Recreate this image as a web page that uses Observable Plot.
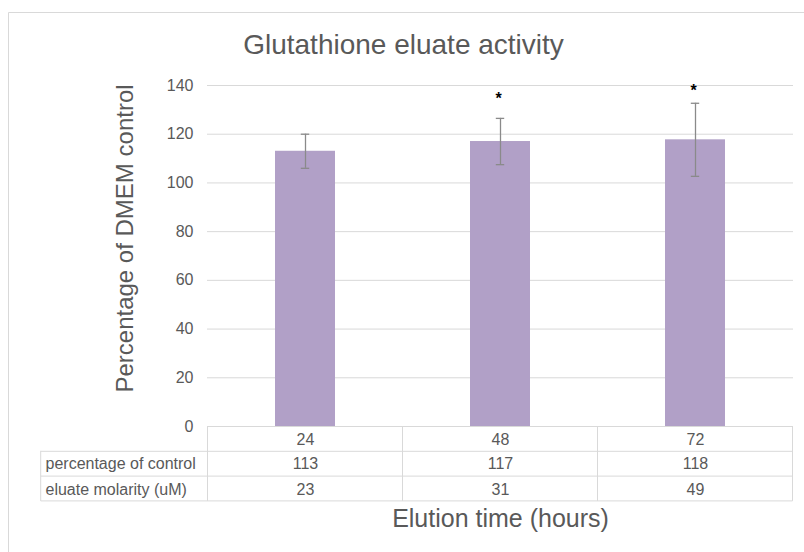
<!DOCTYPE html>
<html><head><meta charset="utf-8">
<script src="https://cdn.jsdelivr.net/npm/d3@7"></script>
<script src="https://cdn.jsdelivr.net/npm/@observablehq/plot@0.6"></script>
<style>
html,body{margin:0;padding:0;background:#fff;}
#chart{width:804px;height:552px;overflow:hidden;}
</style></head><body><div id="chart"></div>
<script>
// ---- data ----
const times = ["24", "48", "72"];
const pctValues = [113, 117, 117.7];
const errValues = [7, 9.5, 15];
const sigLabels = ["", "*", "*"];
const sigY = [null, 134.7, 137.8];
const yTicks = [0, 20, 40, 60, 80, 100, 120, 140];
const rowLabels = ["percentage of control", "eluate molarity (uM)"];
const pctRow = ["113", "117", "118"];
const molarityRow = ["23", "31", "49"];
const titleText = "Glutathione eluate activity";
const yTitle = "Percentage of DMEM control";
const xTitle = "Elution time (hours)";

const data = times.map((t, i) => ({
  time: t, value: pctValues[i], err: errValues[i],
  sig: sigLabels[i], sigY: sigY[i], pct: pctRow[i], mol: molarityRow[i]
}));

const font = "'Liberation Sans', Arial, sans-serif";
const grey = "#595959";
const lineCol = "#d9d9d9";
const errCol = "#8a8a8a";

const plot = Plot.plot({
  width: 804, height: 552,
  marginLeft: 207, marginRight: 11, marginTop: 85, marginBottom: 126,
  style: {fontFamily: font, fontSize: "16px", color: grey, background: "#fff", overflow: "visible"},
  x: {domain: times, paddingInner: 0.69, paddingOuter: 0.345, label: null},
  y: {domain: [0, 140], label: null},
  marks: [
    Plot.gridY(yTicks, {stroke: lineCol, strokeOpacity: 1, strokeWidth: 1}),
    Plot.axisY(yTicks, {tickSize: 0, tickPadding: 14, fontSize: 16, fill: grey, label: null}),
    Plot.axisX({tickSize: 0, tickPadding: 7, fontSize: 16, fill: grey, label: null}),
    Plot.barY(data, {x: "time", y: "value", fill: "#b1a0c7"}),
    Plot.ruleX(data, {x: "time", y1: d => d.value - d.err, y2: d => d.value + d.err, stroke: errCol, strokeWidth: 1.3}),
    Plot.tickY(data, {x: "time", y: d => d.value - d.err, insetLeft: 25.8, insetRight: 25.8, stroke: errCol, strokeWidth: 1.3}),
    Plot.tickY(data, {x: "time", y: d => d.value + d.err, insetLeft: 25.8, insetRight: 25.8, stroke: errCol, strokeWidth: 1.3}),
    Plot.text(data.filter(d => d.sig), {x: "time", y: "sigY", text: "sig", fontSize: 16, fontWeight: "bold", fill: "#000", dx: -2}),
    // table rows
    Plot.text(data, {x: "time", text: "pct", frameAnchor: "bottom", lineAnchor: "bottom", dy: 42.3, fontSize: 16, fill: grey}),
    Plot.text(data, {x: "time", text: "mol", frameAnchor: "bottom", lineAnchor: "bottom", dy: 68, fontSize: 16, fill: grey}),
    Plot.text([rowLabels[0]], {text: d => d, frameAnchor: "bottom-left", textAnchor: "start", lineAnchor: "bottom", dx: -162, dy: 42.3, fontSize: 16, fill: grey}),
    Plot.text([rowLabels[1]], {text: d => d, frameAnchor: "bottom-left", textAnchor: "start", lineAnchor: "bottom", dx: -162, dy: 68, fontSize: 16, fill: grey}),
    // titles
    Plot.text([titleText], {text: d => d, frameAnchor: "top", textAnchor: "middle", lineAnchor: "bottom", dx: -97, dy: -31.5, fontSize: 28, fill: grey}),
    Plot.text([yTitle], {text: d => d, frameAnchor: "left", textAnchor: "middle", lineAnchor: "bottom", rotate: -90, dx: -75, dy: -17.5, fontSize: 24, fill: grey}),
    Plot.text([xTitle], {text: d => d, frameAnchor: "bottom", textAnchor: "middle", lineAnchor: "bottom", dy: 100.7, fontSize: 25, fill: grey})
  ]
});

// ---- table grid & outer border, positioned with Plot's scales ----
const svg = d3.select(plot);
const xs = plot.scale("x"), ys = plot.scale("y");
const y0 = ys.apply(0);
const bw = xs.bandwidth;
const step = xs.step ?? bw / (1 - 0.69);
const gap = (step - bw) / 2;
const bounds = times.map(t => xs.apply(t) - gap);
bounds.push(xs.apply(times[times.length - 1]) + bw + gap);
const rowH = 24.8;
const tableLeft = 40.7;
const g = svg.insert("g", ":first-child").attr("stroke", lineCol).attr("stroke-width", 1).attr("fill", "none");
const xEnd = bounds[bounds.length - 1];
g.append("line").attr("x1", bounds[0]).attr("x2", xEnd).attr("y1", y0 + 0.5).attr("y2", y0 + 0.5);
for (let r = 1; r <= 3; r++) {
  g.append("line").attr("x1", tableLeft).attr("x2", xEnd).attr("y1", y0 + r * rowH + 0.5).attr("y2", y0 + r * rowH + 0.5);
}
bounds.forEach(b => {
  g.append("line").attr("x1", b).attr("x2", b).attr("y1", y0).attr("y2", y0 + 3 * rowH + 0.5);
});
g.append("line").attr("x1", tableLeft).attr("x2", tableLeft).attr("y1", y0 + rowH).attr("y2", y0 + 3 * rowH + 0.5);
// outer chart border (top & left visible)
g.append("path").attr("d", "M8.5,552V12.5H804");

document.getElementById("chart").appendChild(plot);
</script>
</body></html>
